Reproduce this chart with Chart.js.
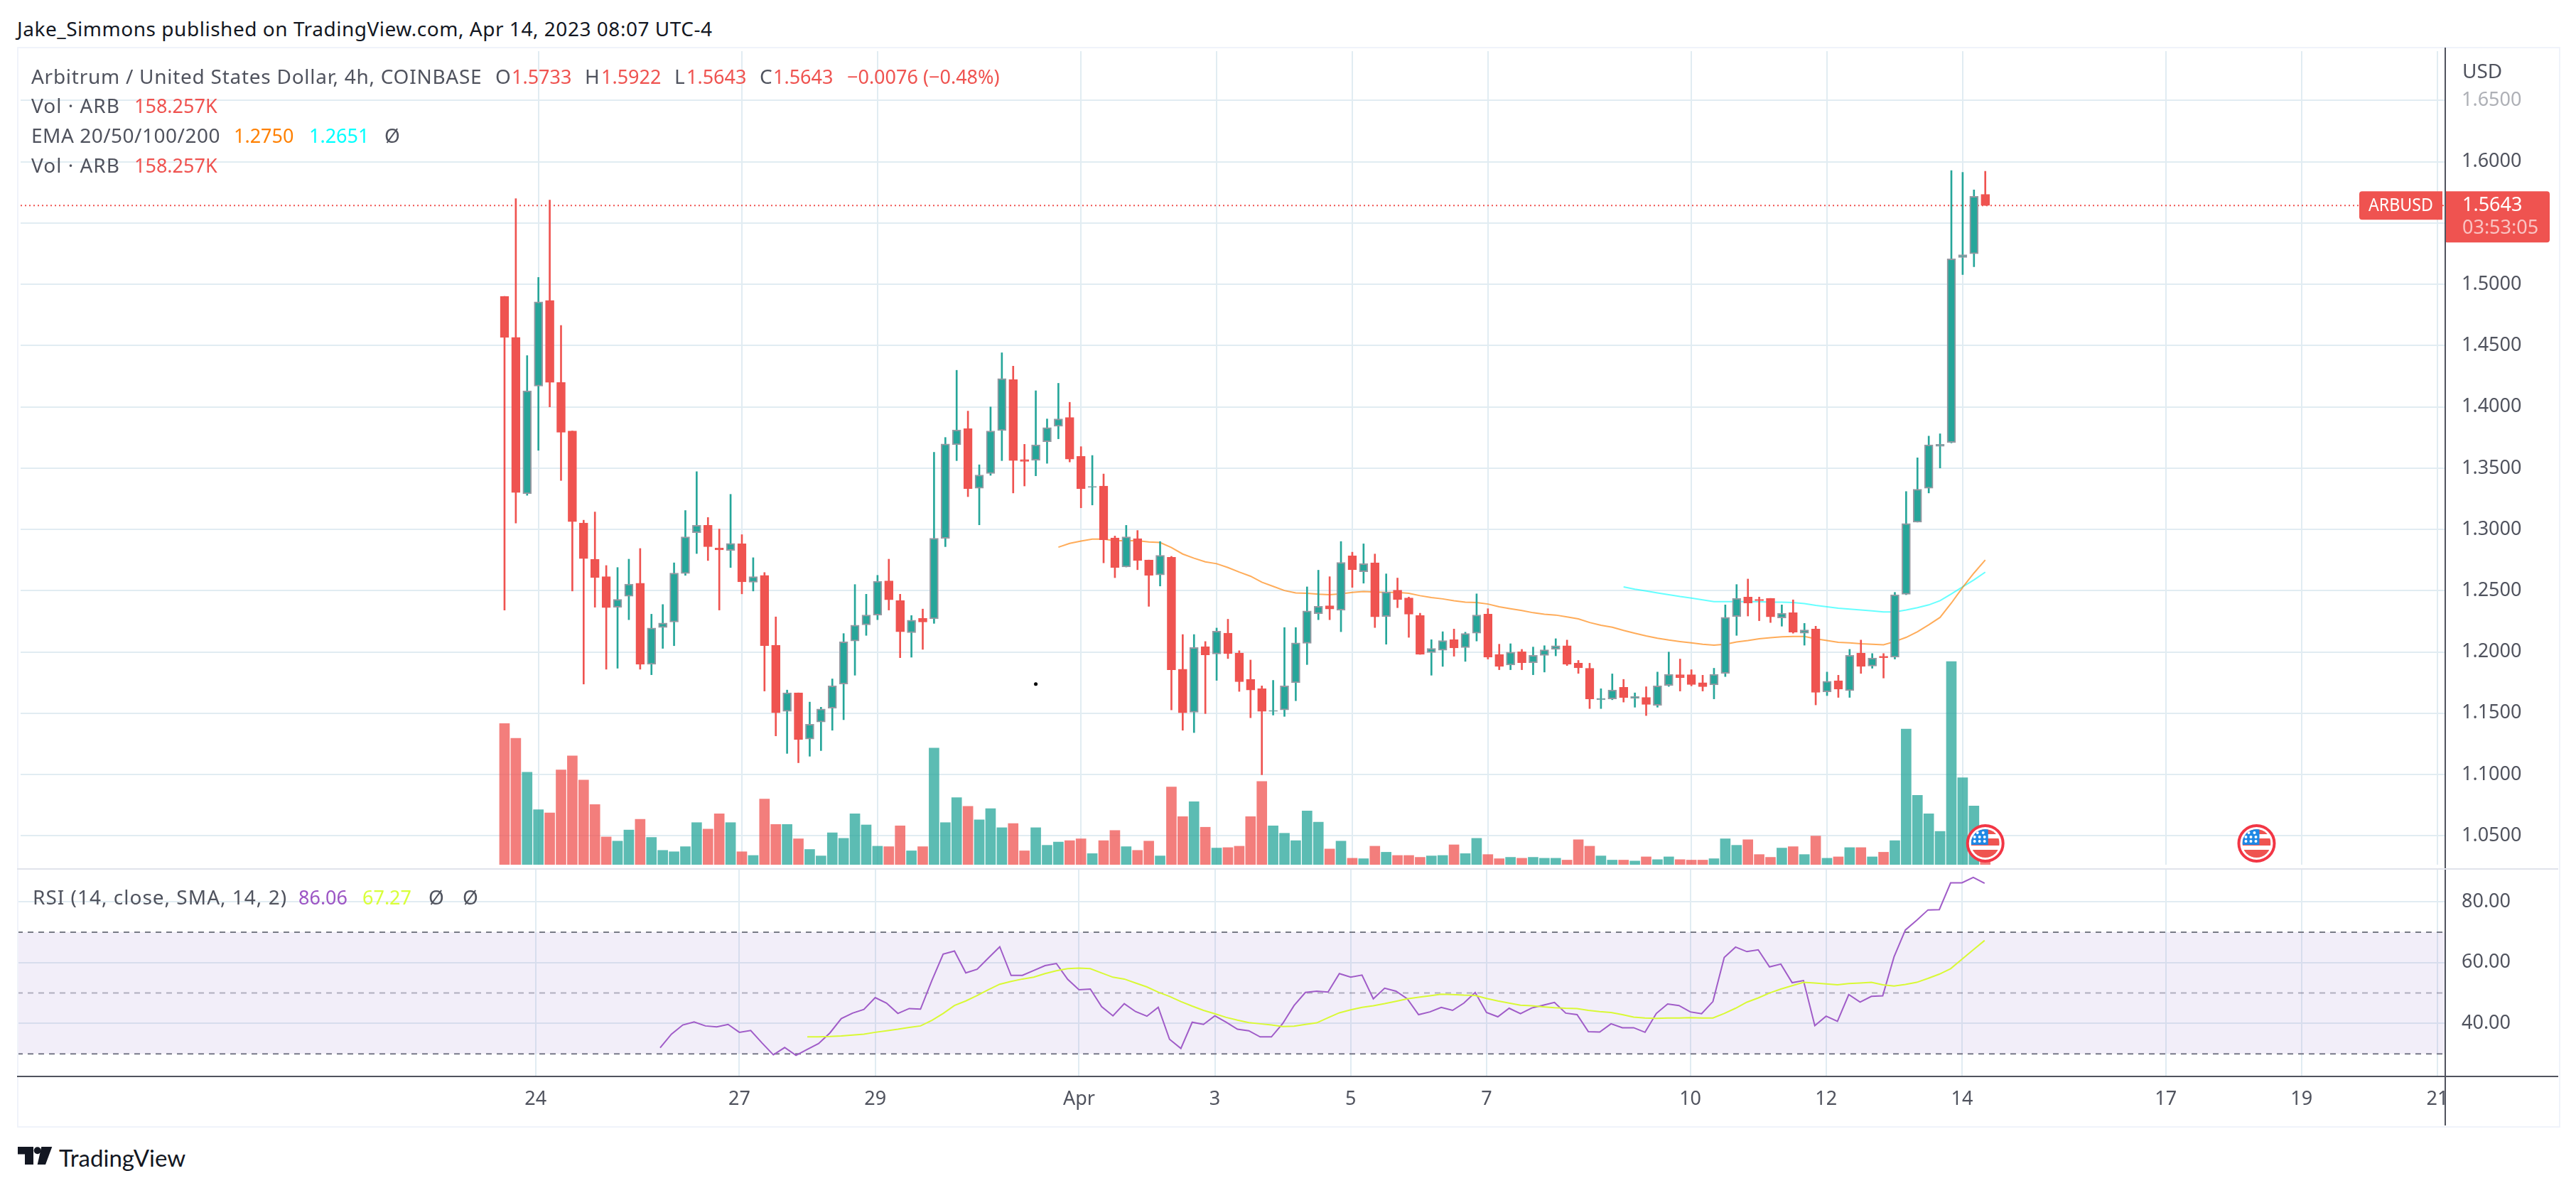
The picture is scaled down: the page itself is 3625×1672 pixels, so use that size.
<!DOCTYPE html>
<html>
<head>
<meta charset="utf-8">
<script src="https://cdn.jsdelivr.net/npm/chart.js@4"></script>
<style>
  html, body { margin: 0; padding: 0; background: #fff; width: 3625px; height: 1672px; overflow: hidden; }
  body { position: relative; font-family: "Noto Sans", sans-serif; }
  canvas { position: absolute; display: block; }
  .t { position: absolute; transform: translateY(-50%); white-space: nowrap; font-size: 28px; color: #50535e; line-height: 1; }
  .v { font-size: 27px; }
  .red { color: #ef5350; }
  .box { position: absolute; }
</style>
</head>
<body>
<canvas id="mainChart" width="3576" height="1155" style="left:24px;top:67px"></canvas>
<canvas id="rsiChart" width="3576" height="361" style="left:24px;top:1223px"></canvas>

<!-- pane frame -->
<div class="box" style="left:24px;top:66px;width:3575px;height:1517px;border:2px solid #f0f3fa"></div>
<div class="box" style="left:3442px;top:1517px;width:156px;height:66px;background:#fff"></div>
<div class="box" style="left:24px;top:1514px;width:3576px;height:2px;background:#50535e"></div>
<div class="box" style="left:3440px;top:67px;width:2px;height:1517px;background:#50535e"></div>
<div class="box" style="left:24px;top:1222px;width:3576px;height:2px;background:#e0e3eb"></div>

<div class="t" style="left:24px;top:40px;color:#131722;letter-spacing:.53px">Jake_Simmons published on TradingView.com, Apr 14, 2023 08:07 UTC-4</div>

<div class="t" style="left:44px;top:107px;letter-spacing:.73px">Arbitrum / United States Dollar, 4h, COINBASE</div>
<div class="t" style="left:697px;top:107px">O</div>
<div class="t v red" style="left:720px;top:107px">1.5733</div>
<div class="t" style="left:823px;top:107px">H</div>
<div class="t v red" style="left:846px;top:107px">1.5922</div>
<div class="t" style="left:949px;top:107px">L</div>
<div class="t v red" style="left:966px;top:107px">1.5643</div>
<div class="t" style="left:1069px;top:107px">C</div>
<div class="t v red" style="left:1088px;top:107px">1.5643</div>
<div class="t v red" style="left:1192px;top:107px">−0.0076 (−0.48%)</div>

<div class="t" style="left:44px;top:148px;letter-spacing:1px">Vol · ARB</div>
<div class="t v red" style="left:189px;top:148px">158.257K</div>

<div class="t" style="left:44px;top:190px;letter-spacing:.5px">EMA 20/50/100/200</div>
<div class="t v" style="left:329px;top:190px;color:#ff8000">1.2750</div>
<div class="t v" style="left:435px;top:190px;color:#00ffff">1.2651</div>
<div class="t" style="left:541px;top:190px">Ø</div>

<div class="t" style="left:44px;top:232px;letter-spacing:1px">Vol · ARB</div>
<div class="t v red" style="left:189px;top:232px">158.257K</div>

<div class="t" style="left:3465px;top:99px">USD</div>

<div class="t" style="left:46px;top:1262px;letter-spacing:1px">RSI (14, close, SMA, 14, 2)</div>
<div class="t v" style="left:420px;top:1262px;color:#9c55c4">86.06</div>
<div class="t v" style="left:510px;top:1262px;color:#d9ff3a">67.27</div>
<div class="t" style="left:603px;top:1262px">Ø</div>
<div class="t" style="left:651px;top:1262px">Ø</div>

<svg class="box" style="left:24px;top:1612px" width="52" height="29" viewBox="24 1612 52 29">
  <path d="M25 1614H47V1639H35V1624.5H25Z M58.3 1614H73.3L64 1639H52.7Z" fill="#131722"/>
  <circle cx="52.7" cy="1619.3" r="5" fill="#131722"/>
</svg>
<div class="t" style="left:83px;top:1629px;font-family:Lato,sans-serif;font-size:33px;color:#131722">TradingView</div>

<script>
// candles, 4h bars from Mar 23 12:00
const opens = [
  1.4902,1.4566,1.3290,1.4169,1.4868,1.4199,1.3803,1.3052,1.2757,1.2614,
  1.2365,1.2455,1.2561,1.1900,1.2199,1.2244,1.2640,1.2973,1.3033,1.2848,
  1.2829,1.2882,1.2569,1.2625,1.2055,1.1515,1.1666,1.1289,1.1429,1.1542,
  1.1738,1.2089,1.2221,1.2301,1.2580,1.2418,1.2157,1.2274,1.2270,1.2927,
  1.3690,1.3822,1.3335,1.3456,1.3807,1.4222,1.3569,1.3565,1.3716,1.3841,
  1.3913,1.3595,1.3343,1.3354,1.2931,1.2693,1.2924,1.2750,1.2629,1.2772,
  1.1859,1.1508,1.2044,1.1984,1.2153,1.1991,1.1776,1.1700,1.1515,1.1527,
  1.1749,1.2070,1.2312,1.2376,1.2342,1.2784,1.2655,1.2727,1.2289,1.2504,
  1.2440,1.2297,1.1995,1.2014,1.2100,1.2036,1.2153,1.2308,1.1980,1.1893,
  1.2002,1.1912,1.1972,1.2021,1.2051,1.1908,1.1867,1.1610,1.1617,1.1712,
  1.1621,1.1629,1.1565,1.1727,1.1814,1.1814,1.1749,1.1731,1.1825,1.2289,
  1.2448,1.2429,1.2437,1.2278,1.2320,1.2153,1.2187,1.1674,1.1765,1.1685,
  1.1991,1.1885,1.1965,1.1957,1.2471,1.3059,1.3335,1.3678,1.3709,1.5219,1.5249,1.5733
];
const closes = [
  1.4566,1.3301,1.4131,1.4856,1.4199,1.3792,1.3063,1.2761,1.2606,1.2361,
  1.2429,1.2554,1.1900,1.2195,1.2236,1.2644,1.2939,1.3033,1.2859,1.2833,
  1.2886,1.2572,1.2614,1.2051,1.1504,1.1666,1.1285,1.1410,1.1534,1.1723,
  1.2082,1.2218,1.2301,1.2576,1.2425,1.2165,1.2259,1.2244,1.2927,1.3697,
  1.3811,1.3331,1.3444,1.3803,1.4230,1.3561,1.3554,1.3690,1.3830,1.3901,
  1.3573,1.3331,1.3350,1.2916,1.2689,1.2939,1.2746,1.2625,1.2788,1.1855,
  1.1504,1.2036,1.1976,1.2169,1.1987,1.1757,1.1689,1.1515,1.1523,1.1723,
  1.2074,1.2335,1.2372,1.2350,1.2731,1.2671,1.2720,1.2286,1.2489,1.2429,
  1.2308,1.1980,1.2029,1.2093,1.2033,1.2150,1.2301,1.1957,1.1882,1.1999,
  1.1912,1.1972,1.2017,1.2051,1.1900,1.1870,1.1617,1.1621,1.1689,1.1629,
  1.1636,1.1572,1.1723,1.1817,1.1791,1.1734,1.1716,1.1817,1.2282,1.2437,
  1.2399,1.2418,1.2286,1.2316,1.2161,1.2180,1.1670,1.1761,1.1697,1.1972,
  1.1882,1.1950,1.1953,1.2467,1.3048,1.3327,1.3690,1.3694,1.5207,1.5241,1.5717,1.5643
];
const highs = [
  1.4902,1.5698,1.4418,1.5056,1.5687,1.4664,1.3803,1.3075,1.3142,1.2705,
  1.2689,1.2757,1.2844,1.2308,1.2387,1.2727,1.3154,1.3471,1.3097,1.3003,
  1.3286,1.2957,1.2769,1.2648,1.2286,1.1689,1.1666,1.1591,1.1549,1.1780,
  1.2150,1.2550,1.2471,1.2625,1.2757,1.2471,1.2297,1.2350,1.3629,1.3750,
  1.4298,1.3965,1.3527,1.3999,1.4441,1.4332,1.3694,1.4131,1.3901,1.4192,
  1.4037,1.3675,1.3603,1.3452,1.2946,1.3033,1.2991,1.2750,1.2901,1.2780,
  1.2142,1.2142,1.2085,1.2195,1.2267,1.2010,1.1934,1.1723,1.1768,1.2199,
  1.2199,1.2531,1.2667,1.2614,1.2901,1.2814,1.2882,1.2799,1.2637,1.2603,
  1.2448,1.2316,1.2100,1.2165,1.2187,1.2161,1.2474,1.2353,1.2063,1.2067,
  1.2021,1.2040,1.2051,1.2108,1.2097,1.1931,1.1908,1.1700,1.1821,1.1776,
  1.1666,1.1716,1.1836,1.1999,1.1942,1.1855,1.1810,1.1867,1.2384,1.2550,
  1.2595,1.2448,1.2437,1.2384,1.2425,1.2233,1.2210,1.1836,1.1810,1.2021,
  1.2097,1.1987,1.1987,1.2486,1.3309,1.3584,1.3761,1.3780,1.5928,1.5913,1.5770,1.5922
];
const lows = [
  1.2342,1.3052,1.3278,1.3645,1.3999,1.3399,1.2497,1.1738,1.2365,1.1859,
  1.1867,1.2263,1.1859,1.1814,1.2029,1.2051,1.2625,1.2803,1.2746,1.2342,
  1.2689,1.2474,1.2497,1.1681,1.1315,1.1172,1.1096,1.1149,1.1195,1.1361,
  1.1447,1.1810,1.2135,1.2263,1.2342,1.1953,1.1957,1.2021,1.2233,1.2859,
  1.3561,1.3267,1.3037,1.3441,1.3561,1.3297,1.3354,1.3437,1.3539,1.3739,
  1.3550,1.3176,1.3199,1.2727,1.2606,1.2693,1.2671,1.2372,1.2538,1.1527,
  1.1361,1.1342,1.1497,1.1768,1.1946,1.1678,1.1463,1.0998,1.1485,1.1474,
  1.1602,1.1897,1.2263,1.2263,1.2165,1.2527,1.2561,1.2199,1.2063,1.2361,
  1.2119,1.1980,1.1810,1.1882,1.1965,1.1923,1.2089,1.1942,1.1855,1.1855,
  1.1855,1.1814,1.1836,1.1968,1.1889,1.1825,1.1538,1.1538,1.1610,1.1591,
  1.1549,1.1481,1.1549,1.1719,1.1681,1.1723,1.1681,1.1617,1.1799,1.2135,
  1.2293,1.2255,1.2240,1.2210,1.2153,1.2055,1.1568,1.1644,1.1629,1.1629,
  1.1825,1.1867,1.1787,1.1942,1.2467,1.3059,1.3297,1.3501,1.3705,1.5079,1.5143,1.5643
];
// volume in thousands of ARB
const volumes = [
  1525,1365,1000,595,560,1025,1175,915,650,300,
  255,375,490,295,155,140,195,455,385,550,
  455,140,100,710,435,435,280,165,95,345,
  285,550,430,200,195,420,150,195,1260,455,
  725,630,485,605,400,445,150,400,210,245,
  260,280,120,260,370,195,155,255,95,840,
  520,680,405,180,185,200,520,900,420,340,
  260,580,460,170,255,70,65,200,135,100,
  100,80,95,100,215,120,285,110,65,80,
  70,80,70,70,50,270,200,95,50,50,
  40,85,55,85,55,50,50,65,280,210,
  270,110,80,180,195,110,310,70,85,185,
  185,85,135,260,1465,750,550,360,2195,940,635,158.257
];

const ema50Start = 49;
const ema50 = [
  1.2855,1.2886,1.2905,1.2920,1.2920,1.2908,1.2908,1.2908,1.2897,1.2893,
  1.2852,1.2799,1.2765,1.2735,1.2720,1.2689,1.2652,1.2618,1.2569,1.2535,
  1.2501,1.2482,1.2478,1.2471,1.2467,1.2474,1.2486,1.2493,1.2489,1.2486,
  1.2486,1.2478,1.2459,1.2444,1.2433,1.2418,1.2406,1.2403,1.2391,1.2369,
  1.2353,1.2338,1.2320,1.2308,1.2301,1.2286,1.2270,1.2240,1.2218,1.2202,
  1.2176,1.2153,1.2131,1.2112,1.2097,1.2085,1.2074,1.2063,1.2055,1.2063,
  1.2082,1.2093,1.2108,1.2116,1.2123,1.2127,1.2127,1.2108,1.2093,1.2078,
  1.2074,1.2067,1.2063,1.2059,1.2085,1.2119,1.2165,1.2221,1.2282,1.2399,
  1.2527,1.2644,1.2750
];
const ema100Start = 99;
const ema100 = [
  1.2531,1.2512,1.2497,1.2482,1.2467,1.2452,1.2440,1.2425,1.2410,1.2410,
  1.2410,1.2410,1.2410,1.2406,1.2406,1.2403,1.2395,1.2380,1.2369,1.2357,
  1.2350,1.2342,1.2335,1.2327,1.2327,1.2342,1.2361,1.2384,1.2418,1.2474,
  1.2531,1.2588,1.2651
];

const rsiStart = 14;
const rsiValues = [
  32.0,36.5,39.5,40.5,39.2,38.9,39.7,37.1,37.7,33.6,29.7,32.1,29.5,31.5,33.4,36.9,
  41.6,43.4,44.6,48.5,46.7,43.3,44.9,44.7,54.1,62.8,63.8,56.6,57.8,61.5,65.2,55.8,
  55.8,57.4,59.0,59.7,54.5,51.1,51.3,45.5,42.5,46.5,43.9,42.4,45.3,34.8,31.8,40.4,
  39.7,42.5,40.4,38.1,37.6,35.6,35.6,40.0,45.9,50.2,50.6,50.3,56.4,55.2,55.9,48.1,
  51.6,50.6,48.1,42.9,43.8,45.3,44.3,46.7,50.2,43.6,42.2,45.0,43.2,45.1,46.0,46.9,
  43.4,42.9,37.3,37.2,39.9,38.6,38.6,37.1,43.3,46.4,45.9,43.8,43.2,47.2,61.7,65.1,
  63.6,64.2,58.6,59.5,53.4,54.1,39.3,42.4,40.7,49.5,47.0,48.9,49.1,61.9,70.7,73.9,
  77.3,77.4,86.2,86.2,88.0,86.06
];
const rsiSmaStart = 27;
const rsiSma = [
  35.6,35.6,35.7,35.9,36.2,36.5,37.1,37.6,38.1,38.7,39.2,41.0,43.3,45.9,47.4,49.2,
  51.1,52.9,53.8,54.6,55.2,56.4,57.3,58.0,58.2,58.0,56.6,55.2,54.6,53.3,52.0,50.3,
  48.9,47.2,45.7,44.3,43.2,42.0,41.1,40.3,39.9,39.5,39.0,39.1,39.7,40.2,41.9,43.5,
  44.5,45.3,45.8,46.5,47.3,48.1,48.6,49.1,49.6,49.5,49.3,49.2,48.2,47.4,46.7,46.0,
  45.8,45.5,45.2,45.0,44.9,44.3,43.9,43.6,42.9,42.1,41.8,41.7,41.8,41.8,41.9,41.8,
  41.8,43.3,45.0,47.0,48.4,50.0,51.3,52.4,53.5,53.3,53.0,52.7,53.1,53.3,53.5,52.7,
  52.3,52.8,53.5,54.8,56.2,58.0,61.1,64.2,67.27
];

// date labels sit on bar indexes, the axis runs past the last bar
const tickLabels = ["24","27","29","Apr","3","5","7","10","12","14","17","19","21"];
const tickBars = [3,21,33,51,63,75,87,105,117,129,147,159,171];
const priceTicks = [1.05,1.10,1.15,1.20,1.25,1.30,1.35,1.40,1.45,1.50,1.55,1.60,1.65];
const rsiTicks = [40,60,80];
const rsiBandEdges = [70,50,30];
const eventBars = [131,155];
const stray = [{ x: 47, y: 1.1738 }];

const lastClose = closes[closes.length - 1];
const xMin = -42.81, xMax = 171.63;
const RED = "#ef5350", GREEN = "#26a69a", EDGE = "#9598a1", TEXT = "#50535e", GRID = "#e1ecf2";
const FONT = "'Noto Sans', sans-serif";
const up = (i) => closes[i] >= opens[i];
const bars = opens.map((o, i) => i);
const series = (vals, start) => vals.map((y, k) => ({ x: start + k, y }));
const across = (y) => [{ x: xMin, y }, { x: xMax, y }];

function setXTicks(scale) {
  scale.ticks = tickBars.map((v) => ({ value: v }));
}

// tick labels should not push the plot area in, the panes have fixed sizes
function noPadding(scale) {
  scale.paddingTop = scale.paddingBottom = scale.paddingLeft = scale.paddingRight = 0;
}

function drawFlag(ctx, cx, cy) {
  ctx.save();
  ctx.beginPath();
  ctx.arc(cx, cy, 25, 0, Math.PI * 2);
  ctx.fillStyle = "#fff";
  ctx.fill();
  ctx.lineWidth = 4;
  ctx.strokeStyle = "#f23645";
  ctx.stroke();
  ctx.beginPath();
  ctx.arc(cx, cy, 20, 0, Math.PI * 2);
  ctx.clip();
  ctx.fillStyle = RED;
  ctx.fillRect(cx - 20, cy - 21, 40, 8);
  ctx.fillRect(cx - 20, cy - 7, 40, 10);
  ctx.fillRect(cx - 20, cy + 9, 40, 12);
  ctx.fillStyle = "#1e88e5";
  ctx.fillRect(cx - 20, cy - 20, 24, 22);
  ctx.fillStyle = "#fff";
  [[-11, -15], [-3, -15], [-15, -9], [-8, -9], [-1, -9], [-15, -3], [-8, -3], [-1, -3]].forEach((p) => {
    ctx.beginPath();
    ctx.arc(cx + p[0], cy + p[1], 2, 0, Math.PI * 2);
    ctx.fill();
  });
  ctx.restore();
}

// event flags and the last price tag
const overlayPlugin = {
  id: "overlay",
  afterDraw(chart) {
    const ctx = chart.ctx;
    const y = chart.scales.y.getPixelForValue(lastClose);
    eventBars.forEach((b) => drawFlag(ctx, chart.scales.x.getPixelForValue(b), chart.chartArea.bottom - 30));

    ctx.save();
    ctx.fillStyle = RED;
    const axisX = chart.chartArea.right;
    ctx.beginPath();
    ctx.roundRect(axisX - 120, y - 20, 117, 40, [4, 0, 0, 4]);
    ctx.fill();
    ctx.beginPath();
    ctx.roundRect(axisX, y - 20, 148, 72, [0, 4, 4, 4]);
    ctx.fill();
    ctx.font = "26px " + FONT;
    ctx.textBaseline = "middle";
    ctx.fillStyle = "#fff";
    ctx.fillText("ARBUSD", axisX - 107, y, 91);
    ctx.font = "27px " + FONT;
    ctx.fillText(lastClose.toFixed(4), axisX + 25, y);
    ctx.fillStyle = "rgba(255,255,255,0.65)";
    ctx.fillText("03:53:05", axisX + 25, y + 32);
    ctx.restore();
  },
};

new Chart(document.getElementById("mainChart"), {
  data: {
    datasets: [
      {
        type: "bar",
        label: "Vol",
        yAxisID: "yVol",
        data: bars.map((i) => ({ x: i, y: volumes[i] })),
        backgroundColor: bars.map((i) => (up(i) ? "rgba(38,166,154,0.75)" : "rgba(239,83,80,0.75)")),
        barThickness: 14,
        grouped: false,
        order: 5,
      },
      {
        type: "line",
        label: "last",
        data: across(lastClose),
        borderColor: RED,
        borderWidth: 2,
        borderDash: [2, 4],
        pointRadius: 0,
        order: 4,
      },
      {
        type: "line",
        label: "EMA 50",
        data: series(ema50, ema50Start),
        borderColor: "rgba(255,128,0,0.65)",
        borderWidth: 2,
        pointRadius: 0,
        order: 3,
      },
      {
        type: "line",
        label: "EMA 100",
        data: series(ema100, ema100Start),
        borderColor: "rgba(0,255,255,0.6)",
        borderWidth: 2,
        pointRadius: 0,
        order: 3,
      },
      {
        type: "bar",
        label: "wick",
        data: bars.map((i) => ({ x: i, y: [lows[i], highs[i]] })),
        backgroundColor: bars.map((i) => (up(i) ? GREEN : RED)),
        barThickness: 2,
        grouped: false,
        order: 2,
      },
      {
        type: "bar",
        label: "body",
        data: bars.map((i) => ({ x: i, y: [opens[i], closes[i]] })),
        backgroundColor: bars.map((i) => (up(i) ? GREEN : RED)),
        borderColor: bars.map((i) => (up(i) ? EDGE : RED)),
        borderWidth: 2,
        borderSkipped: false,
        barThickness: 12,
        grouped: false,
        order: 1,
      },
      {
        type: "scatter",
        label: "dot",
        data: stray,
        backgroundColor: "#000",
        pointRadius: 2.5,
        order: 0,
      },
    ],
  },
  plugins: [overlayPlugin],
  options: {
    responsive: false,
    animation: false,
    devicePixelRatio: 1,
    layout: { padding: 0 },
    plugins: { legend: { display: false }, tooltip: { enabled: false } },
    scales: {
      x: {
        type: "linear",
        offset: false,
        min: xMin,
        max: xMax,
        afterBuildTicks: setXTicks,
        afterFit: (s) => { s.height = 0; noPadding(s); },
        ticks: { display: false },
        grid: { color: GRID, lineWidth: 2, drawTicks: false, offset: false },
        border: { display: false },
      },
      y: {
        position: "right",
        min: 1.0264,
        max: 1.6902,
        afterBuildTicks: (s) => { s.ticks = priceTicks.map((v) => ({ value: v })); },
        afterFit: (s) => { s.width = 160; noPadding(s); },
        ticks: {
          padding: 24,
          font: { family: FONT, size: 27 },
          color: (c) => (c.tick.value > 1.64 ? "#aeb0b6" : TEXT),
          callback: (v) => v.toFixed(4),
        },
        grid: { color: GRID, lineWidth: 2, drawTicks: false },
        border: { display: false },
      },
      yVol: { display: false, min: 0, max: 8790 },
    },
  },
});

new Chart(document.getElementById("rsiChart"), {
  data: {
    datasets: [
      {
        type: "line",
        label: "band",
        data: across(rsiBandEdges[0]),
        borderColor: "#787b86",
        borderWidth: 2,
        borderDash: [8, 7],
        pointRadius: 0,
        fill: { target: "+2", above: "rgba(126,87,194,0.1)", below: "rgba(126,87,194,0.1)" },
        order: 4,
      },
      {
        type: "line",
        label: "mid",
        data: across(rsiBandEdges[1]),
        borderColor: "rgba(120,123,134,0.55)",
        borderWidth: 2,
        borderDash: [8, 7],
        pointRadius: 0,
        order: 4,
      },
      {
        type: "line",
        label: "low",
        data: across(rsiBandEdges[2]),
        borderColor: "#787b86",
        borderWidth: 2,
        borderDash: [8, 7],
        pointRadius: 0,
        order: 4,
      },
      {
        type: "line",
        label: "RSI",
        data: series(rsiValues, rsiStart),
        borderColor: "#a05cc8",
        borderWidth: 2,
        pointRadius: 0,
        order: 2,
      },
      {
        type: "line",
        label: "SMA",
        data: series(rsiSma, rsiSmaStart),
        borderColor: "#d9f935",
        borderWidth: 2,
        pointRadius: 0,
        order: 1,
      },
    ],
  },
  options: {
    responsive: false,
    animation: false,
    devicePixelRatio: 1,
    layout: { padding: 0 },
    plugins: { legend: { display: false }, tooltip: { enabled: false } },
    scales: {
      x: {
        type: "linear",
        min: xMin,
        max: xMax,
        afterBuildTicks: setXTicks,
        afterFit: (s) => { s.height = 69; noPadding(s); },
        ticks: {
          autoSkip: false,
          maxRotation: 0,
          padding: 16,
          font: { family: FONT, size: 27 },
          color: TEXT,
          callback: (v) => tickLabels[tickBars.indexOf(v)],
        },
        grid: { color: GRID, lineWidth: 2, drawTicks: false },
        border: { display: false },
      },
      y: {
        position: "right",
        min: 22.6,
        max: 90.75,
        afterBuildTicks: (s) => { s.ticks = rsiTicks.map((v) => ({ value: v })); },
        afterFit: (s) => { s.width = 160; noPadding(s); },
        ticks: {
          padding: 24,
          font: { family: FONT, size: 27 },
          color: TEXT,
          callback: (v) => v.toFixed(2),
        },
        grid: { color: GRID, lineWidth: 2, drawTicks: false },
        border: { display: false },
      },
    },
  },
});
</script>
</body>
</html>
